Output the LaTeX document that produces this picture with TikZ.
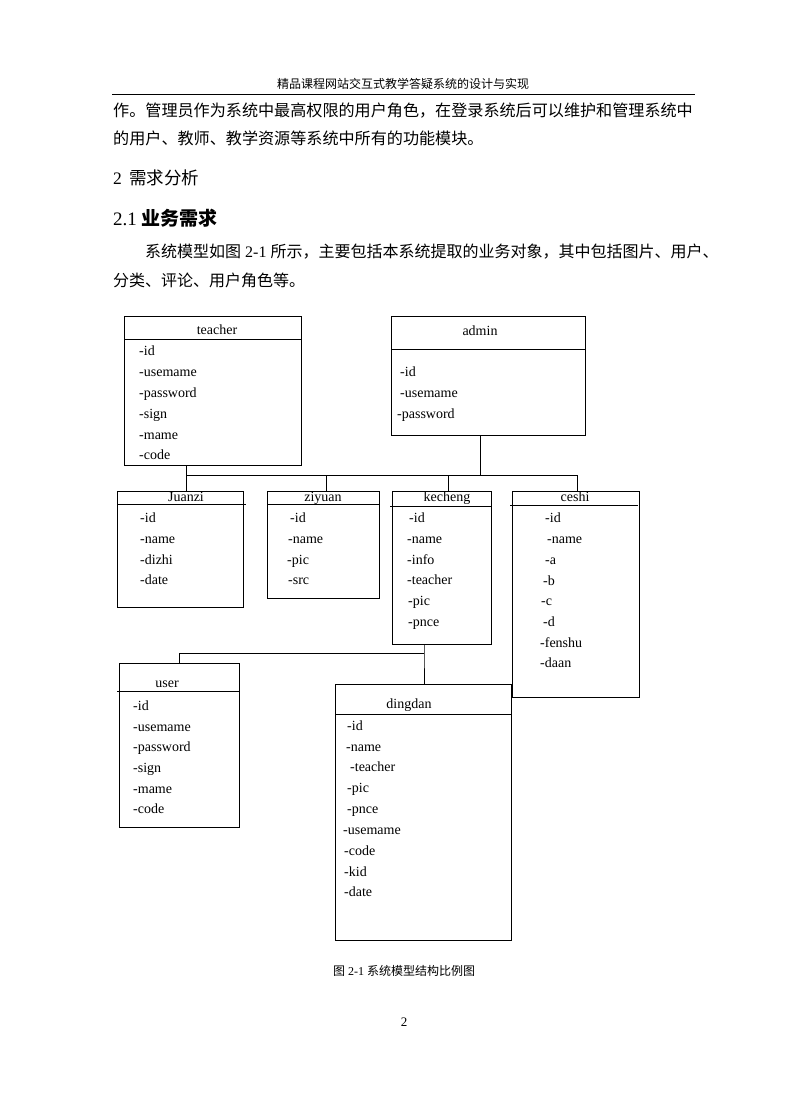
\documentclass[tikz,border=0pt]{standalone}
\usepackage{fontspec}
\setmainfont{Liberation Serif}
\newfontfamily\cjk{Noto Sans CJK SC}
\begin{document}
\begin{tikzpicture}[x=1pt,y=-1pt,
  box/.style={draw, line width=0.8pt, inner sep=0, anchor=north west},
  attr/.style={anchor=west, inner sep=0, text height=10pt, text depth=3pt, font=\fontsize{14}{16}\selectfont},
  ttl/.style={inner sep=0, text height=10pt, text depth=3pt, font=\fontsize{14}{16}\selectfont},
  hline/.style={line width=0.8pt},
  conn/.style={line width=0.8pt},
  txt/.style={anchor=west, inner sep=0}]
\fill[white] (0,0) rectangle (790,1118);
\useasboundingbox (0,0) rectangle (790,1118);

% page header
\node[inner sep=0, font=\cjk\fontsize{12}{14}\selectfont] (hdr) at (403,84) {精品课程网站交互式教学答疑系统的设计与实现};
\coordinate (rl) at (112,94);
\coordinate (rr) at (695,94);
\draw[line width=0.8pt] (rl) -- (rr);

% body text
\node[txt, font=\cjk\fontsize{16.1}{18}\selectfont] (p1) at (113,111) {作。管理员作为系统中最高权限的用户角色，在登录系统后可以维护和管理系统中};
\node[txt, font=\cjk\fontsize{16.1}{18}\selectfont] (p2) at (113,138) {的用户、教师、教学资源等系统中所有的功能模块。};
\node[txt, font=\fontsize{17.5}{20}\selectfont] (h1) at (113,178) {2\, {\cjk 需求分析}};
\node[txt, font=\fontsize{19}{22}\selectfont] (h2) at (113,218) {2.1 {\cjk\bfseries 业务需求}};
\node[txt, font=\fontsize{16}{18}\selectfont] (p3) at (145,252) {{\cjk 系统模型如图} 2-1 {\cjk 所示，主要包括本系统提取的业务对象，其中包括图片、用户、}};
\node[txt, font=\cjk\fontsize{16}{18}\selectfont] (p4) at (113,280) {分类、评论、用户角色等。};

% teacher
\node[box, minimum width=177pt, minimum height=149pt] (teacher) at (124,316) {};
\draw[hline] ([yshift=-23pt]teacher.north west) -- ([yshift=-23pt]teacher.north east);
\node[ttl] (teacherT) at (217,331) {teacher};
\node[attr] (t1) at (139,352) {-id};
\node[attr] (t2) at (139,373) {-usemame};
\node[attr] (t3) at (139,394) {-password};
\node[attr] (t4) at (139,415) {-sign};
\node[attr] (t5) at (139,436) {-mame};
\node[attr] (t6) at (139,456) {-code};

% admin
\node[box, minimum width=194pt, minimum height=119pt] (admin) at (391,316) {};
\draw[hline] ([yshift=-33pt]admin.north west) -- ([yshift=-33pt]admin.north east);
\node[ttl] (adminT) at (480,332) {admin};
\node[attr] (a1) at (400,373) {-id};
\node[attr] (a2) at (400,394) {-usemame};
\node[attr] (a3) at (397,415) {-password};

% Juanzi
\node[box, minimum width=126pt, minimum height=116pt] (juanzi) at (117,491) {};
\draw[hline] ([yshift=-13pt]juanzi.north west) -- ([xshift=2pt,yshift=-13pt]juanzi.north east);
\node[ttl] (juanziT) at (186,498) {Juanzi};
\node[attr] (j1) at (140,519) {-id};
\node[attr] (j2) at (140,540) {-name};
\node[attr] (j3) at (140,561) {-dizhi};
\node[attr] (j4) at (140,581) {-date};

% ziyuan
\node[box, minimum width=112pt, minimum height=107pt] (ziyuan) at (267,491) {};
\draw[hline] ([yshift=-13pt]ziyuan.north west) -- ([yshift=-13pt]ziyuan.north east);
\node[ttl] (ziyuanT) at (323,498) {ziyuan};
\node[attr] (z1) at (290,519) {-id};
\node[attr] (z2) at (288,540) {-name};
\node[attr] (z3) at (287,561) {-pic};
\node[attr] (z4) at (288,581) {-src};

% kecheng
\node[box, minimum width=99pt, minimum height=153pt] (kecheng) at (392,491) {};
\draw[hline] ([xshift=-2pt,yshift=-15pt]kecheng.north west) -- ([yshift=-15pt]kecheng.north east);
\node[ttl] (kechengT) at (447,498) {kecheng};
\node[attr] (k1) at (409,519) {-id};
\node[attr] (k2) at (407,540) {-name};
\node[attr] (k3) at (407,561) {-info};
\node[attr] (k4) at (407,581) {-teacher};
\node[attr] (k5) at (408,602) {-pic};
\node[attr] (k6) at (408,623) {-pnce};

% ceshi
\node[box, minimum width=127pt, minimum height=206pt] (ceshi) at (512,491) {};
\draw[hline] ([xshift=-2pt,yshift=-14pt]ceshi.north west) -- ([xshift=-2pt,yshift=-14pt]ceshi.north east);
\node[ttl] (ceshiT) at (575,498) {ceshi};
\node[attr] (c1) at (545,519) {-id};
\node[attr] (c2) at (547,540) {-name};
\node[attr] (c3) at (545,561) {-a};
\node[attr] (c4) at (543,582) {-b};
\node[attr] (c5) at (541,602) {-c};
\node[attr] (c6) at (543,623) {-d};
\node[attr] (c7) at (540,644) {-fenshu};
\node[attr] (c8) at (540,664) {-daan};

% user
\node[box, minimum width=120pt, minimum height=164pt] (user) at (119,663) {};
\draw[hline] ([xshift=-2pt,yshift=-28pt]user.north west) -- ([yshift=-28pt]user.north east);
\node[ttl] (userT) at (167,684) {user};
\node[attr] (u1) at (133,707) {-id};
\node[attr] (u2) at (133,728) {-usemame};
\node[attr] (u3) at (133,748) {-password};
\node[attr] (u4) at (133,769) {-sign};
\node[attr] (u5) at (133,790) {-mame};
\node[attr] (u6) at (133,810) {-code};

% dingdan
\node[box, minimum width=176pt, minimum height=256pt] (dingdan) at (335,684) {};
\draw[hline] ([yshift=-30pt]dingdan.north west) -- ([yshift=-30pt]dingdan.north east);
\node[ttl] (dingdanT) at (409,705) {dingdan};
\node[attr] (d1) at (347,727) {-id};
\node[attr] (d2) at (346,748) {-name};
\node[attr] (d3) at (350,768) {-teacher};
\node[attr] (d4) at (347,789) {-pic};
\node[attr] (d5) at (347,810) {-pnce};
\node[attr] (d6) at (343,831) {-usemame};
\node[attr] (d7) at (344,852) {-code};
\node[attr] (d8) at (344,873) {-kid};
\node[attr] (d9) at (344,893) {-date};

% connectors
\coordinate (bL) at (186,475);
\coordinate (bZ) at (326,475);
\coordinate (bA) at (480,475);
\coordinate (bK) at (448,475);
\coordinate (bR) at (577,475);
\draw[conn] (teacher.south -| bL) -- (bL) -- (bR);
\draw[conn] (admin.south -| bA) -- (bA);
\draw[conn] (bL) -- (juanzi.north -| bL);
\draw[conn] (bZ) -- (ziyuan.north -| bZ);
\draw[conn] (bK) -- (kecheng.north -| bK);
\draw[conn] (bR) -- (ceshi.north -| bR);

\coordinate (kU) at (424,653);
\coordinate (uU) at (179,653);
\draw[conn] (kecheng.south -| kU) -- (kU) -- (dingdan.north -| kU);
\draw[conn] (kU) -- (uU) -- (user.north -| uU);

% caption and page number
\node[inner sep=0, font=\fontsize{12}{14}\selectfont] (cap) at (404,971) {{\cjk 图} 2-1 {\cjk 系统模型结构比例图}};
\node[inner sep=0, font=\fontsize{13}{15}\selectfont] (pg) at (404,1022) {2};
\end{tikzpicture}
\end{document}
